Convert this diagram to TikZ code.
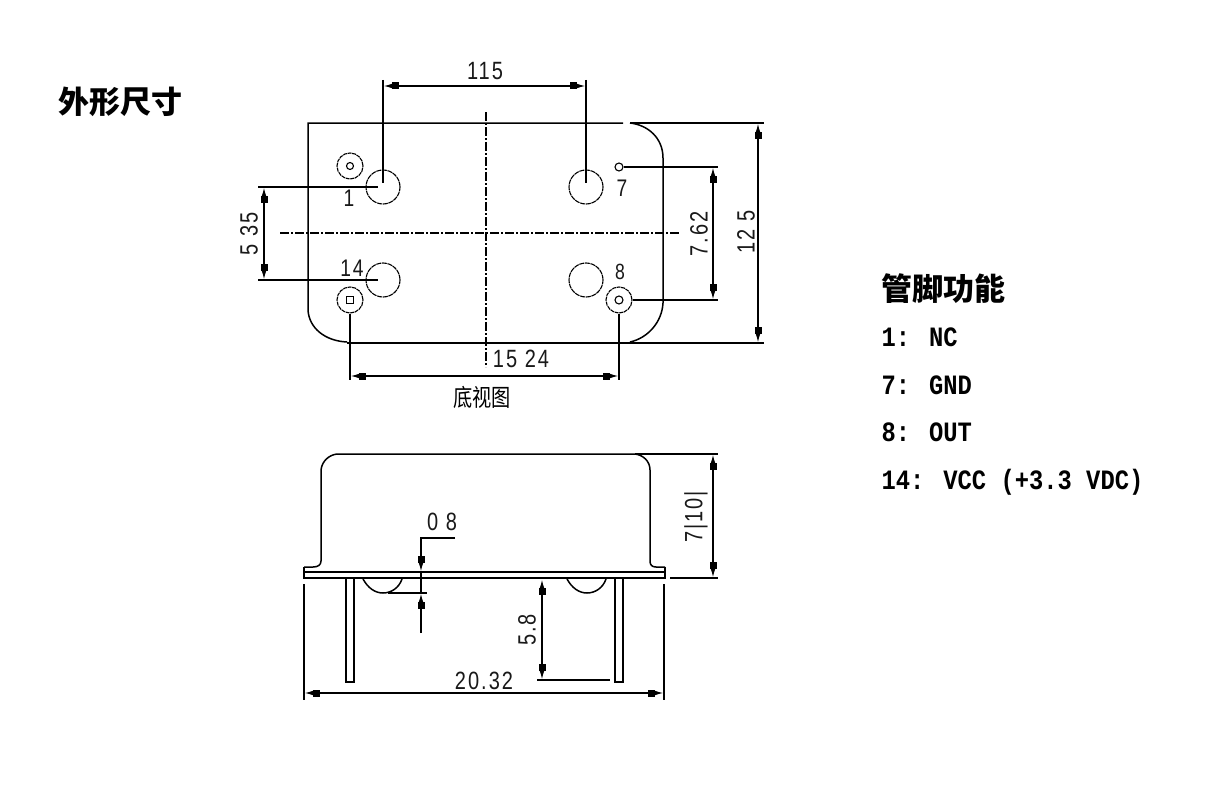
\documentclass[tikz,border=0pt]{standalone}
\usepackage{fontspec}
\usetikzlibrary{arrows.meta,matrix}
\setmainfont{Liberation Sans}
\newfontfamily\cjk{Noto Sans CJK SC}
\newfontfamily\cjknarrow[FakeStretch=0.8]{Noto Sans CJK SC}
\newfontfamily\cad[FakeStretch=0.8,LetterSpace=8]{Liberation Sans}
\newfontfamily\pinfont[FakeStretch=0.85]{Liberation Mono}
\tikzset{
  dimline/.style={line width=1.4pt, {Latex[length=9pt,width=4.5pt] Rectangle[length=7pt,width=7pt]}-{Rectangle[length=7pt,width=7pt] Latex[length=9pt,width=4.5pt]}},
  leadtip/.style={-{Rectangle[length=7pt,width=7pt] Latex[length=9pt,width=4.5pt]}},
  thinline/.style={line width=1.4pt},
  outline/.style={line width=1.5pt},
  centerline/.style={line width=1.2pt, dash pattern=on 9pt off 2pt on 2pt off 2pt},
  hole/.style={circle, draw, line width=1.1pt, minimum size=34pt, inner sep=0pt, dash pattern=on 5pt off .7pt},
  pinring/.style={circle, draw, line width=1.1pt, minimum size=26pt, inner sep=0pt, dash pattern=on 4pt off .7pt},
  pindot/.style={circle, draw, line width=1.1pt, minimum size=8pt, inner sep=0pt},
  pinsquare/.style={rectangle, draw, line width=1.1pt, minimum size=7pt, inner sep=0pt},
  dimtext/.style={font=\cad\fontsize{25}{25}\selectfont, inner sep=0pt, text=black!90},
  pintext/.style={font=\pinfont\bfseries\fontsize{28}{28}\selectfont, anchor=west, inner sep=0pt, text height=16pt, text depth=4pt},
  pinhead/.style={font=\cjk\bfseries\fontsize{31}{31}\selectfont, anchor=west, inner sep=0pt, text height=16pt, text depth=4pt},
}
\begin{document}
\begin{tikzpicture}[x=1pt, y=-1pt, >=Latex]
  \useasboundingbox[fill=white] (0,0) rectangle (1219,800);
  \node[font=\cjk\bfseries\fontsize{31}{31}\selectfont, inner sep=0pt] (title) at (120.5,102) {外形尺寸};

  % bottom view
  \draw[outline] (623,123) -- (308,123) -- (308,310) .. controls (309,328) and (325,341) .. (347,342);
  \draw[outline] (347,343) -- (764,343);
  \draw[outline] (630,123) -- (764,123);
  \draw[outline] (630,123) .. controls (648,125) and (663,138) .. (663,158) -- (663,303) .. controls (662,322) and (648,338) .. (630,342);
  \draw[centerline] (280,233) -- (679,233);
  \draw[centerline] (486,112) -- (486,367);

  \node[hole] (holeA) at (383,187) {};
  \node[hole] (holeB) at (586,187) {};
  \node[hole] (holeC) at (383,280) {};
  \node[hole] (holeD) at (586,280) {};
  \node[pinring] (ringA) at (350,166) {};
  \node[pindot, minimum size=7pt] (dotA) at (350,166) {};
  \node[pindot] (dotB) at (619,167) {};
  \node[pinring] (ringC) at (350,300) {};
  \node[pinsquare] (dotC) at (350,300) {};
  \node[pinring] (ringD) at (619,300) {};
  \node[pindot] (dotD) at (619,300) {};

  \node[dimtext, font=\cad\fontsize{24}{24}\selectfont] (pinA) at (349,198) {1};
  \node[dimtext, font=\cad\fontsize{24}{24}\selectfont] (pinB) at (622,188) {7};
  \node[dimtext, font=\cad\fontsize{24}{24}\selectfont] (pinC) at (352,268) {14};
  \node[dimtext, font=\cad\fontsize{22}{22}\selectfont] (pinD) at (620,272) {8};

  \coordinate (topA) at (383,80);
  \coordinate (topB) at (586,80);
  \coordinate (dimA) at (383,86);
  \coordinate (dimB) at (586,86);
  \draw[thinline] (topA) -- (383,183);
  \draw[thinline] (topB) -- (586,183);
  \draw[dimline] (dimA) -- (dimB);
  \node[dimtext] (lenA) at (485,71) {115};

  \coordinate (leftA) at (258,187);
  \coordinate (leftB) at (258,280);
  \coordinate (dimC) at (264,187);
  \coordinate (dimD) at (264,280);
  \draw[thinline] (leftA) -- (378,187);
  \draw[thinline] (leftB) -- (378,280);
  \draw[dimline] (dimC) -- (dimD);
  \node[dimtext, rotate=90] (lenB) at (249,234) {5 35};

  \coordinate (rightA) at (718,167);
  \coordinate (rightB) at (718,300);
  \coordinate (dimE) at (713,167);
  \coordinate (dimF) at (713,300);
  \draw[thinline] (dotB) -- (rightA);
  \draw[thinline] (ringD) -- (rightB);
  \draw[dimline] (dimE) -- (dimF);
  \node[dimtext, rotate=90] (lenC) at (699,234) {7.62};

  \coordinate (dimG) at (758,123);
  \coordinate (dimH) at (758,343);
  \draw[dimline] (dimG) -- (dimH);
  \node[dimtext, rotate=90] (lenD) at (746,232) {12 5};

  \coordinate (downA) at (350,380);
  \coordinate (downB) at (619,380);
  \coordinate (dimI) at (350,376);
  \coordinate (dimJ) at (619,376);
  \draw[thinline] (ringC) -- (downA);
  \draw[thinline] (ringD) -- (downB);
  \draw[dimline] (dimI) -- (dimJ);
  \node[dimtext] (lenE) at (521,359) {15 24};
  \node[font=\cjknarrow\fontsize{24}{24}\selectfont, inner sep=0pt] (viewname) at (482,397) {底视图};

  % side view
  \draw[outline] (304,567) -- (313,567) .. controls (318,567) and (321,565) .. (321,561) -- (321,470)
    .. controls (322,461) and (329,455) .. (337,454) -- (635,454)
    .. controls (643,455) and (650,461) .. (650,470) -- (650,561) .. controls (650,565) and (652,567) .. (656,567) -- (665,567);
  \draw[outline] (304,567) -- (304,578) -- (665,578) -- (665,567);
  \draw[outline] (304,572) -- (665,572);
  \draw[outline] (346,579) -- (346,682) -- (354,682) -- (354,579);
  \draw[outline] (615,579) -- (615,682) -- (623,682) -- (623,579);
  \draw[outline] (363,579) .. controls (368,588) and (375,593) .. (383,593) .. controls (391,593) and (399,588) .. (402,579);
  \draw[outline] (567,579) .. controls (572,588) and (579,593) .. (587,593) .. controls (595,593) and (603,588) .. (606,579);

  \coordinate (extA) at (304,584);
  \coordinate (extB) at (304,700);
  \coordinate (extC) at (664,584);
  \coordinate (extD) at (664,700);
  \coordinate (dimK) at (304,693);
  \coordinate (dimL) at (664,693);
  \draw[thinline] (extA) -- (extB);
  \draw[thinline] (extC) -- (extD);
  \draw[dimline] (dimK) -- (dimL);
  \node[dimtext] (lenF) at (484,681) {20.32};

  \coordinate (extE) at (635,454);
  \coordinate (extF) at (718,454);
  \coordinate (extG) at (670,578);
  \coordinate (extH) at (718,578);
  \coordinate (dimM) at (713,454);
  \coordinate (dimN) at (713,578);
  \draw[thinline] (extE) -- (extF);
  \draw[thinline] (extG) -- (extH);
  \draw[dimline] (dimM) -- (dimN);
  \node[dimtext, rotate=90] (lenG) at (696,517) {7|10|};

  \coordinate (extI) at (537,680);
  \coordinate (extJ) at (610,680);
  \coordinate (dimO) at (542,579);
  \coordinate (dimP) at (542,680);
  \draw[thinline] (extI) -- (extJ);
  \draw[dimline] (dimO) -- (dimP);
  \node[dimtext, rotate=90] (lenH) at (527,630) {5.8};

  \coordinate (leadA) at (455,538);
  \coordinate (leadB) at (421,538);
  \coordinate (leadC) at (421,572);
  \coordinate (leadD) at (421,593);
  \coordinate (leadE) at (421,633);
  \coordinate (extK) at (388,593);
  \coordinate (extL) at (427,593);
  \draw[thinline, leadtip] (leadA) -- (leadB) -- (leadC);
  \draw[thinline, leadtip] (leadE) -- (leadD);
  \draw[thinline] (leadC) -- (leadD);
  \draw[thinline] (extK) -- (extL);
  \node[dimtext] (lenI) at (442,522) {0 8};

  % pin list
  \matrix [draw=none, anchor=north west, row sep=27.5pt] (pinlist) at (878,281) {
    \node [pinhead] (pinhead) {管脚功能}; \\[-1.5pt]
    \node [pintext] (pinNC) {1: NC}; \\
    \node [pintext] (pinGND) {7: GND}; \\
    \node [pintext] (pinOUT) {8: OUT}; \\
    \node [pintext] (pinVCC) {14: VCC (+3.3 VDC)}; \\
  };
\end{tikzpicture}
\end{document}
